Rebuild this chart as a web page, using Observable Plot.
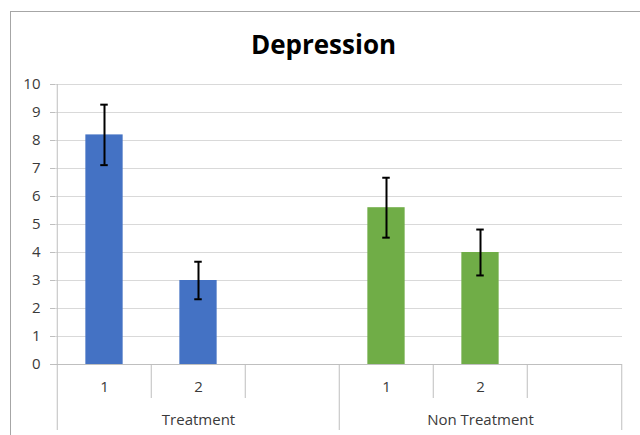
<!DOCTYPE html>
<html><head><meta charset="utf-8">
<script src="https://cdn.jsdelivr.net/npm/d3@7"></script>
<script src="https://cdn.jsdelivr.net/npm/@observablehq/plot@0.6"></script>
<style>
body{margin:0;background:#fff;}
#wrap{position:relative;width:640px;height:435px;overflow:hidden;font-family:"Open Sans",sans-serif;}
#border{position:absolute;left:10px;top:11px;width:700px;height:500px;border-top:1px solid #a6a6a6;border-left:1px solid #a6a6a6;}
#title{position:relative;height:70px;box-sizing:border-box;padding:29px 0 0 7px;text-align:center;font-size:26px;line-height:30px;font-weight:bold;color:#000;}
#chart svg{display:block;position:relative;}
</style></head><body>
<div id="wrap"><div id="border"></div><div id="title">Depression</div><div id="chart"></div></div>
<script>
const groups = ["Treatment", "Non Treatment"];
const levels = ["1", "2", ""];
const groupColors = ["#4472C4", "#70AD47"];
const seriesGroup = ["Treatment", "Treatment", "Non Treatment", "Non Treatment"];
const seriesLevel = ["1", "2", "1", "2"];
const means = [8.2, 3.0, 5.6, 4.0];
const errors = [1.08, 0.67, 1.07, 0.82];
const yTicks = [0, 1, 2, 3, 4, 5, 6, 7, 8, 9, 10];

const W = 640, H = 365, mL = 55, mR = 18;
const step = (W - mL - mR) / 6;
const key = (g, l) => g + "|" + l;
const slots = groups.flatMap(g => levels.map(l => key(g, l)));
const slotRows = slots.map(k => ({key: k, group: k.split("|")[0], level: k.split("|")[1]}));
const bars = means.map((m, i) => ({
  key: key(seriesGroup[i], seriesLevel[i]), group: seriesGroup[i],
  mean: m, lo: m - errors[i], hi: m + errors[i]
}));
const capInset = (step - 8) / 2;
const textColor = "#3a3a3a";

const chart = Plot.plot({
  width: W, height: H, marginLeft: mL, marginRight: mR, marginTop: 14, marginBottom: 71,
  x: {type: "band", domain: slots, padding: 0, axis: null},
  y: {domain: [0, 10], axis: null},
  color: {domain: groups, range: groupColors},
  style: {fontFamily: "'Open Sans', sans-serif", fontSize: "15px", color: textColor, overflow: "visible"},
  marks: [
    Plot.ruleY(yTicks.filter(t => t > 0), {y: d => d, stroke: "#d9d9d9", strokeWidth: 1}),
    Plot.barY(bars, {x: "key", y: "mean", fill: "group", insetLeft: step * 0.3, insetRight: step * 0.3}),
    Plot.ruleY([0], {y: d => d, stroke: "#bfbfbf", strokeWidth: 1}),
    Plot.axisY(yTicks, {tickSize: 5, tickPadding: 10, stroke: "#bfbfbf", fill: textColor, fontSize: 15}),
    // group boundaries (long)
    Plot.ruleX(slotRows.filter(d => d.level === "1"), {
      x: "key", dx: -step / 2, y1: d => d.key === slots[0] ? 10 : 0, y2: () => 0,
      insetBottom: -66, stroke: "#bfbfbf", strokeWidth: 1
    }),
    Plot.ruleX(slotRows.slice(-1), {
      x: "key", dx: step / 2, y1: () => 0, y2: () => 0,
      insetBottom: -66, stroke: "#bfbfbf", strokeWidth: 1
    }),
    // inner boundaries (short)
    Plot.ruleX(slotRows.filter(d => d.level !== "1"), {
      x: "key", dx: -step / 2, y1: () => 0, y2: () => 0,
      insetBottom: -34, stroke: "#bfbfbf", strokeWidth: 1
    }),
    // error bars
    Plot.ruleX(bars, {x: "key", y1: "lo", y2: "hi", stroke: "#000", strokeWidth: 2}),
    Plot.tickY(bars, {x: "key", y: "lo", stroke: "#000", strokeWidth: 2, insetLeft: capInset, insetRight: capInset}),
    Plot.tickY(bars, {x: "key", y: "hi", stroke: "#000", strokeWidth: 2, insetLeft: capInset, insetRight: capInset}),
    // category labels
    Plot.text(slotRows, {x: "key", text: "level", frameAnchor: "bottom", lineAnchor: "middle", dy: 23, fill: textColor, fontSize: 15}),
    Plot.text(groups, {x: g => key(g, "2"), text: d => d, frameAnchor: "bottom", lineAnchor: "middle", dy: 56, fill: textColor, fontSize: 15})
  ]
});
document.getElementById("chart").appendChild(chart);
</script>
</body></html>
